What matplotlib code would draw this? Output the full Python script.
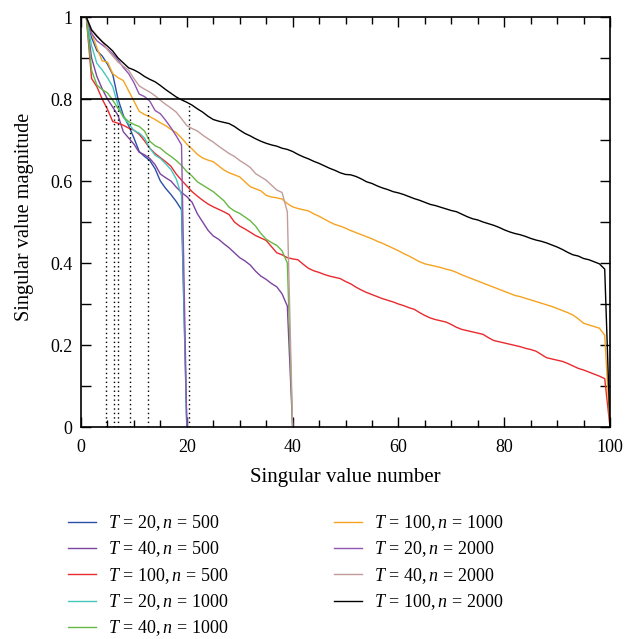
import matplotlib
matplotlib.use("Agg")
import matplotlib.pyplot as plt
import numpy as np
from matplotlib.ticker import MultipleLocator

plt.rcParams['font.family'] = ['Liberation Serif', 'DejaVu Serif']
plt.rcParams['mathtext.fontset'] = 'custom'
plt.rcParams['mathtext.rm'] = 'Liberation Serif'
plt.rcParams['mathtext.it'] = 'Liberation Serif:italic'

# ---- data ----
labels = [r"$T\,=\,20, n\,=\,500$", r"$T\,=\,40, n\,=\,500$", r"$T\,=\,100, n\,=\,500$",
          r"$T\,=\,20, n\,=\,1000$", r"$T\,=\,40, n\,=\,1000$", r"$T\,=\,100, n\,=\,1000$",
          r"$T\,=\,20, n\,=\,2000$", r"$T\,=\,40, n\,=\,2000$", r"$T\,=\,100, n\,=\,2000$"]
colors = ["#2b4fa6", "#7d44a0", "#e92a2e", "#45c7be", "#66b845", "#f6a31f",
          "#9055b0", "#c29c9c", "#000000"]

t20_n500 = [1.0, 0.95, 0.918, 0.905, 0.885, 0.86, 0.80, 0.76, 0.735, 0.705,
            0.672, 0.66, 0.65, 0.63, 0.60, 0.582, 0.567, 0.55, 0.53, 0.0]
t40_n500 = [1.0, 0.90, 0.855, 0.825, 0.80, 0.78, 0.76, 0.72, 0.705, 0.69,
            0.67, 0.664, 0.655, 0.64, 0.617, 0.608, 0.60, 0.585, 0.572, 0.562,
            0.548, 0.52, 0.50, 0.48, 0.466, 0.458, 0.447, 0.437, 0.425, 0.413,
            0.405, 0.395, 0.38, 0.368, 0.36, 0.35, 0.342, 0.325, 0.295, 0.0]
t100_n500 = [1.0, 0.85, 0.83, 0.80, 0.775, 0.745, 0.741, 0.736, 0.729, 0.724,
             0.714, 0.698, 0.68, 0.667, 0.657, 0.647, 0.636, 0.617, 0.602, 0.588,
             0.574, 0.563, 0.553, 0.544, 0.537, 0.531, 0.525, 0.518, 0.50, 0.49,
             0.483, 0.475, 0.467, 0.461, 0.455, 0.44, 0.425, 0.42, 0.413, 0.41,
             0.408, 0.397, 0.387, 0.381, 0.377, 0.372, 0.368, 0.365, 0.362, 0.355,
             0.349, 0.341, 0.334, 0.328, 0.323, 0.318, 0.313, 0.309, 0.305, 0.30,
             0.296, 0.291, 0.287, 0.279, 0.272, 0.266, 0.262, 0.259, 0.256, 0.25,
             0.243, 0.238, 0.235, 0.232, 0.229, 0.226, 0.218, 0.211, 0.208, 0.205,
             0.202, 0.199, 0.196, 0.192, 0.189, 0.185, 0.177, 0.169, 0.166, 0.163,
             0.16, 0.155, 0.149, 0.143, 0.139, 0.134, 0.129, 0.124, 0.118, 0.0]
t20_n1000 = [1.0, 0.93, 0.887, 0.871, 0.852, 0.83, 0.785, 0.755, 0.74, 0.723,
             0.717, 0.705, 0.68, 0.663, 0.655, 0.642, 0.628, 0.605, 0.565, 0.0]
t40_n1000 = [1.0, 0.87, 0.834, 0.823, 0.815, 0.797, 0.777, 0.757, 0.745, 0.738,
             0.733, 0.722, 0.697, 0.686, 0.68, 0.669, 0.66, 0.65, 0.638, 0.623,
             0.612, 0.598, 0.59, 0.582, 0.574, 0.563, 0.552, 0.536, 0.527, 0.521,
             0.512, 0.503, 0.49, 0.472, 0.458, 0.45, 0.443, 0.43, 0.40, 0.0]
t100_n1000 = [1.0, 0.96, 0.925, 0.893, 0.89, 0.862, 0.852, 0.845, 0.82, 0.795,
              0.77, 0.762, 0.757, 0.75, 0.742, 0.735, 0.726, 0.718, 0.705, 0.69,
              0.678, 0.665, 0.656, 0.651, 0.647, 0.637, 0.627, 0.62, 0.615, 0.61,
              0.598, 0.586, 0.581, 0.576, 0.565, 0.561, 0.559, 0.556, 0.545, 0.537,
              0.533, 0.53, 0.527, 0.52, 0.514, 0.507, 0.50, 0.494, 0.49, 0.485,
              0.479, 0.474, 0.469, 0.464, 0.459, 0.453, 0.448, 0.442, 0.436, 0.43,
              0.423, 0.417, 0.41, 0.403, 0.398, 0.395, 0.392, 0.389, 0.385, 0.382,
              0.377, 0.371, 0.366, 0.361, 0.356, 0.351, 0.346, 0.341, 0.336, 0.331,
              0.326, 0.321, 0.318, 0.314, 0.31, 0.306, 0.302, 0.298, 0.294, 0.289,
              0.284, 0.279, 0.273, 0.264, 0.253, 0.249, 0.245, 0.241, 0.224, 0.0]
t20_n2000 = [1.0, 0.96, 0.942, 0.932, 0.922, 0.91, 0.895, 0.877, 0.862, 0.84,
             0.812, 0.806, 0.795, 0.772, 0.764, 0.748, 0.73, 0.71, 0.688, 0.0]
t40_n2000 = [1.0, 0.97, 0.955, 0.94, 0.92, 0.905, 0.89, 0.88, 0.87, 0.85,
             0.832, 0.824, 0.817, 0.808, 0.797, 0.787, 0.778, 0.768, 0.752, 0.735,
             0.728, 0.722, 0.712, 0.703, 0.695, 0.685, 0.676, 0.667, 0.66, 0.65,
             0.642, 0.633, 0.618, 0.61, 0.602, 0.59, 0.578, 0.572, 0.525, 0.0]
t100_n2000 = [1.0, 0.968, 0.953, 0.94, 0.929, 0.917, 0.90, 0.888, 0.876, 0.871,
              0.864, 0.855, 0.848, 0.842, 0.833, 0.823, 0.814, 0.805, 0.798, 0.792,
              0.785, 0.776, 0.768, 0.758, 0.75, 0.746, 0.743, 0.74, 0.733, 0.724,
              0.716, 0.71, 0.703, 0.697, 0.692, 0.688, 0.685, 0.68, 0.677, 0.672,
              0.665, 0.659, 0.654, 0.648, 0.643, 0.637, 0.631, 0.626, 0.62, 0.616,
              0.615, 0.611, 0.605, 0.598, 0.594, 0.588, 0.583, 0.579, 0.574, 0.571,
              0.567, 0.562, 0.557, 0.553, 0.548, 0.543, 0.54, 0.536, 0.532, 0.528,
              0.525, 0.519, 0.513, 0.508, 0.505, 0.50, 0.496, 0.492, 0.487, 0.481,
              0.476, 0.472, 0.469, 0.465, 0.46, 0.456, 0.453, 0.449, 0.444, 0.439,
              0.433, 0.426, 0.42, 0.417, 0.411, 0.408, 0.403, 0.398, 0.385, 0.0]

series = [t20_n500, t40_n500, t100_n500, t20_n1000, t40_n1000, t100_n1000,
          t20_n2000, t40_n2000, t100_n2000]

threshold = 0.8
cutoff_positions = [4.73, 6.3, 7.05, 9.26, 12.7, 20.45]

x_ticks = [0, 20, 40, 60, 80, 100]
x_ticklabels = ["0", "20", "40", "60", "80", "100"]
y_ticks = [0, 0.1, 0.2, 0.3, 0.4, 0.5, 0.6, 0.7, 0.8, 0.9, 1.0]
y_ticklabels = ["0", "", "0.2", "", "0.4", "", "0.6", "", "0.8", "", "1"]

# ---- figure ----
fig = plt.figure(figsize=(6.35, 6.39), dpi=100)
ax = fig.add_axes([81/635, 1-427/639, (610-81)/635, (427-17)/639])

for vals, col, lab in zip(series, colors, labels):
    x = np.arange(1, len(vals)+1)
    ax.plot(x, vals, color=col, lw=1.0, label=lab)

ax.axhline(threshold, color='black', lw=1.2, zorder=3)
ax.vlines(cutoff_positions, 0, threshold - 0.01, colors='black', lw=1.0,
          linestyles=(0, (1, 2.2)))

ax.set_xlim(0, 100)
ax.set_ylim(0, 1)
ax.set_xticks(x_ticks)
ax.set_xticklabels(x_ticklabels)
ax.xaxis.set_minor_locator(MultipleLocator(5))
ax.set_yticks(y_ticks)
ax.set_yticklabels(y_ticklabels)
ax.tick_params(which='both', direction='in', top=True, right=True, labelsize=13,
               width=1.0, colors='black')
ax.tick_params(which='major', length=7)
ax.tick_params(axis='x', which='major', pad=9)
ax.tick_params(axis='y', which='major', pad=6)
ax.tick_params(which='minor', length=5)
for s in ax.spines.values():
    s.set_linewidth(1.2)

ax.set_xlabel("Singular value number", fontsize=15, labelpad=8)
ax.set_ylabel("Singular value magnitude", fontsize=14.6)
ax.yaxis.set_label_coords(-0.089, 0.513)

handles, labs = ax.get_legend_handles_labels()
fig.legend(handles, labs, ncol=2, loc='upper left', bbox_to_anchor=(52/635, 1-497/639),
           frameon=False, fontsize=13, handlelength=1.55, handletextpad=0.67,
           columnspacing=5.8, labelspacing=0.36)

fig.savefig("out.png", dpi=100)
